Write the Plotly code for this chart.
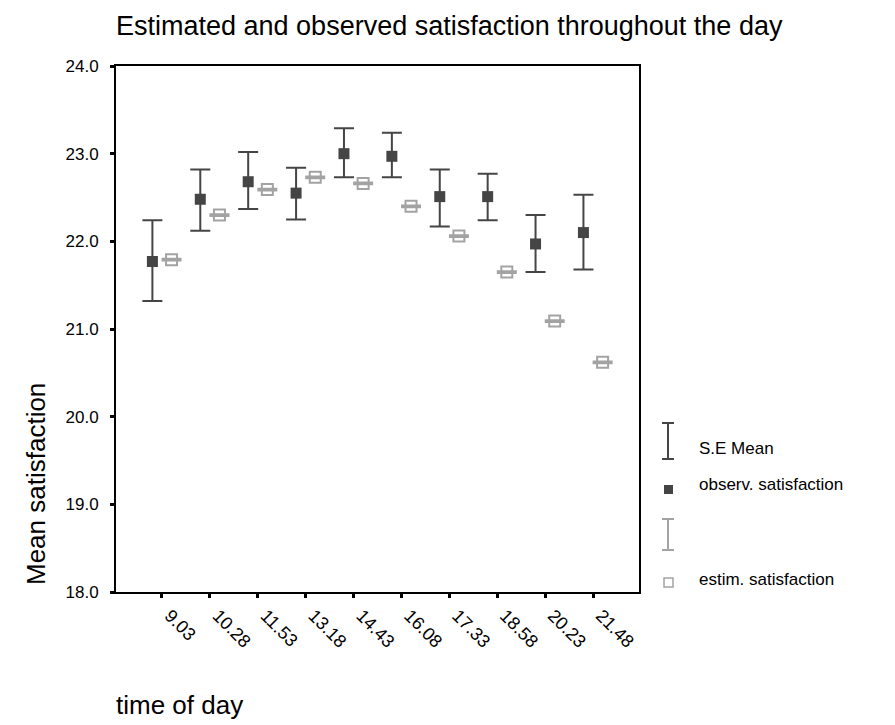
import plotly.graph_objects as go

times = ["9.03", "10.28", "11.53", "13.18", "14.43", "16.08", "17.33", "18.58", "20.23", "21.48"]
obs_mean = [21.77, 22.48, 22.68, 22.55, 23.00, 22.97, 22.51, 22.51, 21.97, 22.10]
obs_upper = [22.24, 22.82, 23.02, 22.84, 23.29, 23.24, 22.82, 22.77, 22.30, 22.53]
obs_lower = [21.32, 22.12, 22.37, 22.25, 22.73, 22.73, 22.17, 22.24, 21.65, 21.68]
est_mean = [21.79, 22.30, 22.59, 22.73, 22.66, 22.40, 22.06, 21.65, 21.09, 20.62]
est_se = [0.01, 0.01, 0.01, 0.01, 0.01, 0.01, 0.01, 0.01, 0.01, 0.01]

DARK = "#454545"
LIGHT = "#a3a3a3"
FONT = "Liberation Sans, Arial, sans-serif"

idx = list(range(len(times)))
x_obs = [i - 0.2 for i in idx]
x_est = [i + 0.2 for i in idx]

fig = go.Figure()
fig.add_trace(go.Scatter(
    x=x_obs, y=obs_mean, mode="markers", name="observ. satisfaction",
    marker=dict(symbol="square", size=11, color=DARK, line=dict(width=0)),
    error_y=dict(type="data", symmetric=False,
                 array=[u - m for u, m in zip(obs_upper, obs_mean)],
                 arrayminus=[m - l for m, l in zip(obs_mean, obs_lower)],
                 color=DARK, thickness=2, width=10),
    showlegend=False))
fig.add_trace(go.Scatter(
    x=x_est, y=est_mean, mode="markers", name="estim. satisfaction",
    marker=dict(symbol="square-open", size=11, color=LIGHT, line=dict(width=2, color=LIGHT)),
    error_y=dict(type="data", array=est_se, color=LIGHT, thickness=2, width=10),
    showlegend=False))

L, R, T, B = 116, 639, 66, 592
W, H = R - L, B - T
def px(x):
    return (x - L) / W
def py(y):
    return (B - y) / H

shapes = []
def ibeam(cx, y0, y1, color):
    shapes.append(dict(type="line", xref="paper", yref="paper", x0=px(cx), x1=px(cx), y0=py(y0), y1=py(y1), line=dict(color=color, width=2)))
    for yy in (y0, y1):
        shapes.append(dict(type="line", xref="paper", yref="paper", x0=px(cx - 6), x1=px(cx + 6), y0=py(yy), y1=py(yy), line=dict(color=color, width=2)))

ibeam(668, 423, 459, DARK)
ibeam(668, 519, 550, LIGHT)
shapes.append(dict(type="rect", xref="paper", yref="paper", x0=px(664), x1=px(673), y0=py(494), y1=py(485), fillcolor=DARK, line=dict(width=0)))
shapes.append(dict(type="rect", xref="paper", yref="paper", x0=px(664), x1=px(673), y0=py(587), y1=py(578), fillcolor="white", line=dict(color=LIGHT, width=1.5)))

annotations = [
    dict(text="S.E Mean", x=px(697), y=py(448), xref="paper", yref="paper", xanchor="left", yanchor="middle", showarrow=False, font=dict(size=17, color="black", family=FONT)),
    dict(text="observ. satisfaction", x=px(697), y=py(484), xref="paper", yref="paper", xanchor="left", yanchor="middle", showarrow=False, font=dict(size=17, color="black", family=FONT)),
    dict(text="estim. satisfaction", x=px(697), y=py(579), xref="paper", yref="paper", xanchor="left", yanchor="middle", showarrow=False, font=dict(size=17, color="black", family=FONT)),
    dict(text="time of day", x=px(114), y=py(705), xref="paper", yref="paper", xanchor="left", yanchor="middle", showarrow=False, font=dict(size=26, color="black", family=FONT)),
    dict(text="Mean satisfaction", x=px(36), y=py(484), xref="paper", yref="paper", xanchor="center", yanchor="middle", textangle=-90, showarrow=False, font=dict(size=26, color="black", family=FONT)),
    dict(text="Estimated and observed satisfaction throughout the day", x=px(114), y=py(26), xref="paper", yref="paper", xanchor="left", yanchor="middle", showarrow=False, font=dict(size=27, color="black", family=FONT)),
]

fig.update_layout(
    width=895, height=725,
    margin=dict(l=L, r=895 - R, t=T, b=725 - B, pad=0),
    paper_bgcolor="white", plot_bgcolor="white",
    font=dict(family=FONT, color="black"),
    shapes=shapes, annotations=annotations,
    showlegend=False,
)
fig.update_xaxes(
    range=[-0.96, 9.96], tickmode="array", tickvals=idx, ticktext=times,
    tickangle=45, ticks="outside", ticklen=4, tickwidth=3, tickcolor="black",
    ticklabelshift=8, ticklabelstandoff=0,
    showline=True, linecolor="black", linewidth=2, mirror=True,
    showgrid=False, zeroline=False, tickfont=dict(size=18, family=FONT),
)
fig.update_yaxes(
    range=[18, 24], dtick=1, tick0=18, tickformat=".1f",
    ticks="outside", ticklen=4, tickwidth=3, tickcolor="black",
    ticklabelstandoff=8,
    showline=True, linecolor="black", linewidth=2, mirror=True,
    showgrid=False, zeroline=False, tickfont=dict(size=17, family=FONT),
)

fig.write_html("out.html")
